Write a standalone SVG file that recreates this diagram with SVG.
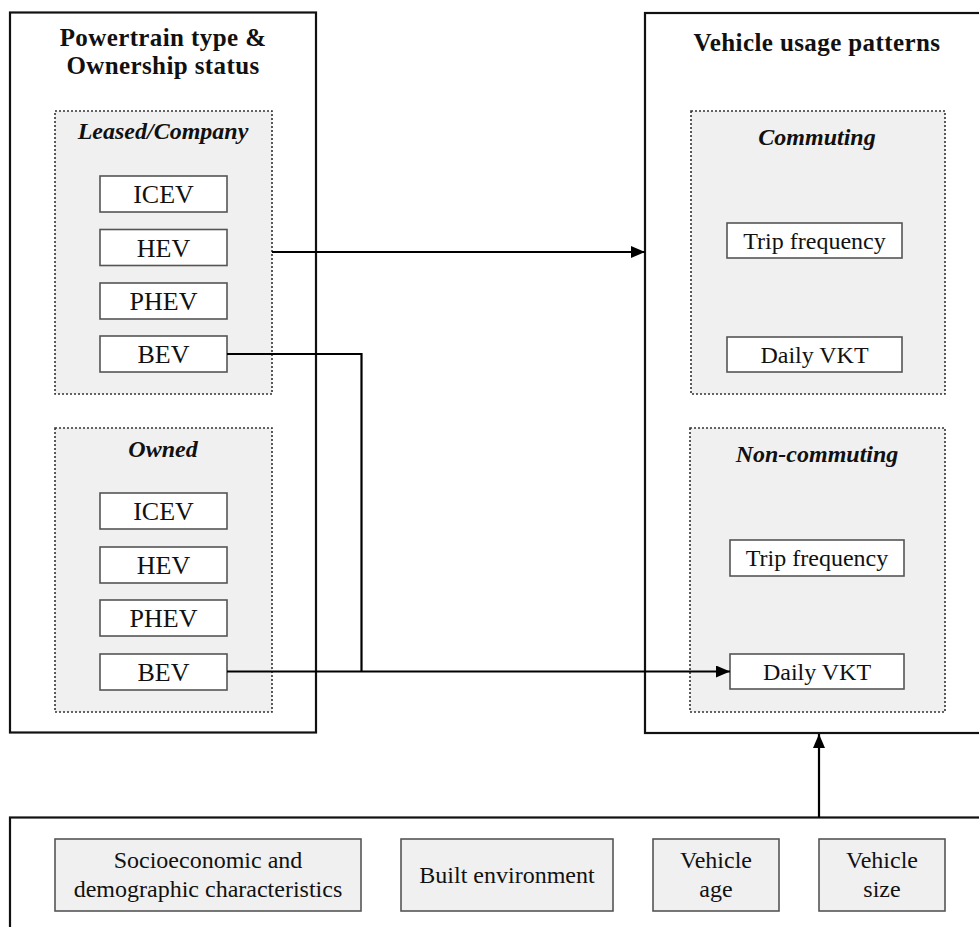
<svg xmlns="http://www.w3.org/2000/svg" width="979" height="927" viewBox="0 0 979 927">
<defs>
<style>
.outer{fill:#fff;stroke:#111;stroke-width:2.2}
.grp{fill:#f0f0f0;stroke:#333;stroke-width:1.6;stroke-dasharray:2 2}
.box{fill:#fff;stroke:#555;stroke-width:1.6}
.fbox{fill:#f0f0f0;stroke:#555;stroke-width:1.6}
.title{font-family:"Liberation Serif",serif;font-weight:bold;font-size:25px;fill:#111;text-anchor:middle;letter-spacing:0.4px}
.gt{font-family:"Liberation Serif",serif;font-weight:bold;font-style:italic;font-size:24px;fill:#111;text-anchor:middle}
.t{font-family:"Liberation Serif",serif;font-size:26px;fill:#111;text-anchor:middle}
.t2{font-family:"Liberation Serif",serif;font-size:24px;fill:#111;text-anchor:middle}
.conn{fill:none;stroke:#000;stroke-width:2.2}
</style>
<marker id="arr" viewBox="0 0 14 12" refX="14" refY="6" markerWidth="14" markerHeight="12" markerUnits="userSpaceOnUse" orient="auto">
<path d="M0,0 L14,6 L0,12 Z" fill="#000"/>
</marker>
</defs>
<rect width="979" height="927" fill="#fff"/>

<g id="powertrain">
<rect class="outer" x="10" y="12.5" width="306" height="720"/>
<text class="title" x="163" y="46">Powertrain type &amp;</text>
<text class="title" x="163" y="74">Ownership status</text>
</g>

<g id="leased">
<rect class="grp" x="55" y="111" width="217" height="283"/>
<text class="gt" x="163" y="139">Leased/Company</text>
</g>
<g id="leased-icev"><rect class="box" x="100" y="176" width="127" height="36"/><text class="t" x="163.5" y="203">ICEV</text></g>
<g id="leased-hev"><rect class="box" x="100" y="229.5" width="127" height="36"/><text class="t" x="163.5" y="256.5">HEV</text></g>
<g id="leased-phev"><rect class="box" x="100" y="283" width="127" height="36"/><text class="t" x="163.5" y="310">PHEV</text></g>
<g id="leased-bev"><rect class="box" x="100" y="336" width="127" height="36"/><text class="t" x="163.5" y="363">BEV</text></g>

<g id="owned">
<rect class="grp" x="55" y="428" width="217" height="284"/>
<text class="gt" x="163" y="457">Owned</text>
</g>
<g id="owned-icev"><rect class="box" x="100" y="493" width="127" height="36"/><text class="t" x="163.5" y="520">ICEV</text></g>
<g id="owned-hev"><rect class="box" x="100" y="547" width="127" height="36"/><text class="t" x="163.5" y="574">HEV</text></g>
<g id="owned-phev"><rect class="box" x="100" y="600" width="127" height="36"/><text class="t" x="163.5" y="627">PHEV</text></g>
<g id="owned-bev"><rect class="box" x="100" y="654" width="127" height="36"/><text class="t" x="163.5" y="681">BEV</text></g>

<g id="usage">
<rect class="outer" x="645" y="13" width="345" height="720"/>
<text class="title" x="817" y="51">Vehicle usage patterns</text>
</g>

<g id="commuting">
<rect class="grp" x="691" y="111" width="254" height="283"/>
<text class="gt" x="817" y="145">Commuting</text>
</g>
<g id="comm-trip"><rect class="box" x="727" y="223" width="175" height="35"/><text class="t2" x="814.5" y="249">Trip frequency</text></g>
<g id="comm-vkt"><rect class="box" x="727" y="337" width="175" height="35"/><text class="t2" x="814.5" y="363">Daily VKT</text></g>

<g id="noncommuting">
<rect class="grp" x="690" y="428" width="255" height="284"/>
<text class="gt" x="817" y="462">Non-commuting</text>
</g>
<g id="non-trip"><rect class="box" x="730" y="540" width="174" height="36"/><text class="t2" x="817" y="566">Trip frequency</text></g>
<g id="non-vkt"><rect class="box" x="730" y="654" width="174" height="35"/><text class="t2" x="817" y="680">Daily VKT</text></g>

<g id="factors">
<rect class="outer" x="10" y="817.5" width="990" height="130"/>
</g>
<g id="socio"><rect class="fbox" x="55" y="839" width="306" height="72"/><text class="t2" x="208" y="868">Socioeconomic and</text><text class="t2" x="208" y="897">demographic characteristics</text></g>
<g id="built"><rect class="fbox" x="401" y="839" width="212" height="72"/><text class="t2" x="507" y="883">Built environment</text></g>
<g id="age"><rect class="fbox" x="653" y="839" width="126" height="72"/><text class="t2" x="716" y="868">Vehicle</text><text class="t2" x="716" y="897">age</text></g>
<g id="size"><rect class="fbox" x="819" y="839" width="126" height="72"/><text class="t2" x="882" y="868">Vehicle</text><text class="t2" x="882" y="897">size</text></g>

<g id="connectors">
<path class="conn" d="M272,252 H645" marker-end="url(#arr)"/>
<path class="conn" d="M227,354 H361.5 V671.5"/>
<path class="conn" d="M227,671.5 H730" marker-end="url(#arr)"/>
<path class="conn" d="M819,817 V734" marker-end="url(#arr)"/>
</g>
</svg>
